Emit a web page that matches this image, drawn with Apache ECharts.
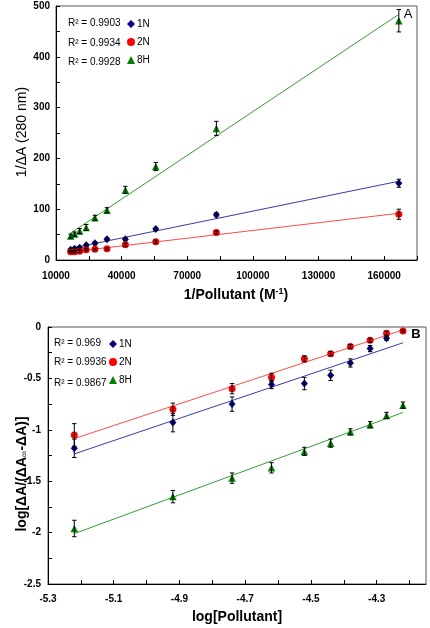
<!DOCTYPE html>
<html>
<head>
<meta charset="utf-8">
<script src="https://cdn.jsdelivr.net/npm/echarts@6/dist/echarts.min.js"></script>
<style>html,body{margin:0;padding:0;background:#fff}#c{width:430px;height:628px}</style>
</head>
<body>
<div id="c"></div>
<script>
// ---- Panel A data: 1/ΔA vs 1/Pollutant ----
const xA = [16700, 18500, 20800, 23800, 27800, 33300, 41700, 55600, 83300, 166700];
const yA_1N = [20, 22, 24, 29, 33, 41, 41, 61, 89, 151];
const yA_2N = [16, 16, 17, 20, 21, 22, 30, 36, 54, 90];
const yA_8H = [47, 51, 57, 64, 83, 98, 138, 184, 259, 471];
const eA_1N = [3, 3, 3, 3, 3, 3, 3, 3, 4, 8];
const eA_2N = [2, 2, 2, 2, 2, 2, 3, 3, 3, 10];
const eA_8H = [4, 4, 5, 6, 5, 5, 7, 8, 14, 22];
const r2A = ['0.9903', '0.9934', '0.9928'];
const xTicksA = [10000, 25000, 40000, 55000, 70000, 85000, 100000, 115000, 130000, 145000, 160000, 175000];
const xLabelsA = [10000, 40000, 70000, 100000, 130000, 160000];
const yTicksA = [0, 50, 100, 150, 200, 250, 300, 350, 400, 450, 500];
const yLabelsA = [0, 100, 200, 300, 400, 500];

// ---- Panel B data: log[ΔA/(ΔA∞-ΔA)] vs log[Pollutant] ----
const xB = [-5.22, -4.92, -4.74, -4.62, -4.52, -4.44, -4.38, -4.32, -4.27, -4.22];
const yB_1N = [-1.18, -0.93, -0.75, -0.56, -0.55, -0.47, -0.35, -0.21, -0.11, null];
const yB_2N = [-1.05, -0.80, -0.60, -0.49, -0.31, -0.26, -0.19, -0.13, -0.06, -0.04];
const yB_8H = [-1.96, -1.65, -1.47, -1.37, -1.21, -1.13, -1.02, -0.95, -0.86, -0.76];
const eB_1N = [0.09, 0.09, 0.07, 0.04, 0.06, 0.05, 0.04, 0.03, 0.02, null];
const eB_2N = [0.11, 0.06, 0.05, 0.04, 0.03, 0.02, 0.02, 0.02, 0.02, 0.01];
const eB_8H = [0.08, 0.06, 0.05, 0.05, 0.04, 0.04, 0.03, 0.03, 0.03, 0.03];
const r2B = ['0.969', '0.9936', '0.9867'];
const xTicksB = [-5.3, -5.2, -5.1, -5.0, -4.9, -4.8, -4.7, -4.6, -4.5, -4.4, -4.3, -4.2];
const xLabelsB = [-5.3, -5.1, -4.9, -4.7, -4.5, -4.3];
const yTicksB = [-2.5, -2.25, -2, -1.75, -1.5, -1.25, -1, -0.75, -0.5, -0.25, 0];
const yLabelsB = [-2.5, -2, -1.5, -1, -0.5, 0];

const names = ['1N', '2N', '8H'];
const colors = ['#000080', '#ff0000', '#008000'];
const lineColors = ['#3a3aa8', '#ff4a4a', '#3a9a3a'];
const symbols = ['diamond', 'circle', 'triangle'];
const symSizes = [[7, 8], 7, 7.5];

const FONT = '"Liberation Sans", Arial, sans-serif';

function fit(xs, ys) {
  const pts = xs.map((x, i) => [x, ys[i]]).filter(p => p[1] != null);
  const n = pts.length;
  let sx = 0, sy = 0, sxx = 0, sxy = 0;
  pts.forEach(([x, y]) => { sx += x; sy += y; sxx += x * x; sxy += x * y; });
  const b = (n * sxy - sx * sy) / (n * sxx - sx * sx);
  const a = (sy - b * sx) / n;
  return [a, b];
}
function fitLine(xs, ys) {
  const [a, b] = fit(xs, ys);
  const x0 = xs[0], x1 = xs[xs.length - 1];
  return [[x0, a + b * x0], [x1, a + b * x1]];
}
function errData(xs, ys, es) {
  return xs.map((x, i) => [x, ys[i], es[i]]).filter(d => d[1] != null);
}
function ptData(xs, ys) {
  return xs.map((x, i) => [x, ys[i]]).filter(d => d[1] != null);
}
function errRender(params, api) {
  const x = api.value(0), y = api.value(1), e = api.value(2);
  const t = api.coord([x, y + e]), b = api.coord([x, y - e]);
  const w = 2.2;
  const st = { stroke: '#000', lineWidth: 1 };
  return {
    type: 'group', children: [
      { type: 'line', shape: { x1: t[0], y1: t[1], x2: b[0], y2: b[1] }, style: st },
      { type: 'line', shape: { x1: t[0] - w, y1: t[1], x2: t[0] + w, y2: t[1] }, style: st },
      { type: 'line', shape: { x1: b[0] - w, y1: b[1], x2: b[0] + w, y2: b[1] }, style: st }
    ]
  };
}

const ysA = [yA_1N, yA_2N, yA_8H], esA = [eA_1N, eA_2N, eA_8H];
const ysB = [yB_1N, yB_2N, yB_8H], esB = [eB_1N, eB_2N, eB_8H];

const series = [];
[[xA, ysA, esA, 0], [xB, ysB, esB, 1]].forEach(([xs, yss, ess, gi]) => {
  for (let k = 0; k < 3; k++) {
    series.push({
      type: 'line', name: 'fit' + names[k] + gi, xAxisIndex: gi, yAxisIndex: gi,
      data: fitLine(xs, yss[k]), showSymbol: false, symbol: 'none', silent: true,
      lineStyle: { color: lineColors[k], width: 1 }, z: 2
    });
  }
  for (let k = 0; k < 3; k++) {
    series.push({
      type: 'scatter', name: names[k], xAxisIndex: gi, yAxisIndex: gi,
      data: ptData(xs, yss[k]), symbol: symbols[k], symbolSize: symSizes[k],
      itemStyle: { color: colors[k], opacity: 1 }, z: 3
    });
  }
  for (let k = 0; k < 3; k++) {
    series.push({
      type: 'custom', name: 'err' + names[k] + gi, xAxisIndex: gi, yAxisIndex: gi,
      data: errData(xs, yss[k], ess[k]), renderItem: errRender,
      encode: { x: 0, y: 1 }, z: 4, silent: true
    });
  }
});

function valAxis(gi, min, max, ticks, labels, margin) {
  return {
    type: 'value', gridIndex: gi, min: min, max: max,
    axisLine: { show: true, onZero: false, lineStyle: { color: '#000', width: 1 } },
    axisTick: { show: true, inside: true, length: 4, customValues: ticks, lineStyle: { color: '#000' } },
    axisLabel: {
      customValues: labels, color: '#000', fontFamily: FONT, fontWeight: 'bold', fontSize: 10,
      margin: margin, formatter: v => String(v), showMinLabel: true, showMaxLabel: true
    },
    splitLine: { show: false }
  };
}

const legendCommon = {
  orient: 'vertical', itemWidth: 8, itemHeight: 8, padding: 0,
  textStyle: { fontFamily: FONT, fontSize: 10, color: '#000', padding: [0, 0, 0, -3] },
  data: names.map(n => ({ name: n })), selectedMode: false
};

function txt(x, y, text, opts) {
  return {
    type: 'text', x: x, y: y, silent: true,
    style: Object.assign({ text: text, fontFamily: FONT, fontSize: 10, fill: '#000', align: 'left', verticalAlign: 'middle' }, opts || {})
  };
}

const graphic = [];
const rowsA = [23, 43, 62], rowsB = [343, 362, 383];
for (let k = 0; k < 3; k++) {
  graphic.push(txt(68, rowsA[k], 'R² = ' + r2A[k]));
  graphic.push(txt(54, rowsB[k], 'R² = ' + r2B[k]));
}
graphic.push(txt(408, 14, 'A', { fontSize: 13, align: 'center' }));
graphic.push(txt(416, 334, 'B', { fontSize: 13, fontWeight: 'bold', align: 'center' }));
graphic.push({
  type: 'text', x: 236, y: 295, silent: true,
  style: {
    text: '{a|1/Pollutant (M}{s|-1}{a|)}', align: 'center', verticalAlign: 'middle',
    rich: {
      a: { fontFamily: FONT, fontSize: 14, fontWeight: 'bold', fill: '#000' },
      s: { fontFamily: FONT, fontSize: 9, fontWeight: 'bold', fill: '#000', verticalAlign: 'top', padding: [0, 0, 6, 0] }
    }
  }
});
graphic.push({
  type: 'text', x: 22, y: 132, rotation: Math.PI / 2, silent: true,
  style: { text: '1/ΔA (280 nm)', fontFamily: FONT, fontSize: 14, fill: '#000', align: 'center', verticalAlign: 'middle' }
});
graphic.push({
  type: 'text', x: 237, y: 617, silent: true,
  style: { text: 'log[Pollutant]', fontFamily: FONT, fontSize: 14, fontWeight: 'bold', fill: '#000', align: 'center', verticalAlign: 'middle' }
});
graphic.push({
  type: 'text', x: 22, y: 474, rotation: Math.PI / 2, silent: true,
  style: {
    text: '{a|log[ΔA/(ΔA}{s|∞}{a|-ΔA)]}', align: 'center', verticalAlign: 'middle',
    rich: {
      a: { fontFamily: FONT, fontSize: 14, fontWeight: 'bold', fill: '#000' },
      s: { fontFamily: FONT, fontSize: 9, fill: '#000', verticalAlign: 'bottom' }
    }
  }
});

const chart = echarts.init(document.getElementById('c'), null, { renderer: 'canvas' });
chart.setOption({
  backgroundColor: '#fff',
  animation: false,
  grid: [
    { left: 56, top: 6, width: 361, height: 254, show: true, borderColor: '#555', borderWidth: 1, backgroundColor: 'transparent' },
    { left: 48, top: 327, width: 378, height: 257, show: true, borderColor: '#555', borderWidth: 1, backgroundColor: 'transparent' }
  ],
  xAxis: [
    valAxis(0, 10000, 175000, xTicksA, xLabelsA, 11),
    valAxis(1, -5.3, -4.15, xTicksB, xLabelsB, 10)
  ],
  yAxis: [
    valAxis(0, 0, 500, yTicksA, yLabelsA, 6),
    valAxis(1, -2.5, 0, yTicksB, yLabelsB, 7)
  ],
  legend: [
    Object.assign({ left: 127, top: 19, itemGap: 8 }, legendCommon),
    Object.assign({ left: 109, top: 339, itemGap: 8 }, legendCommon)
  ],
  graphic: graphic,
  series: series
});
</script>
</body>
</html>
